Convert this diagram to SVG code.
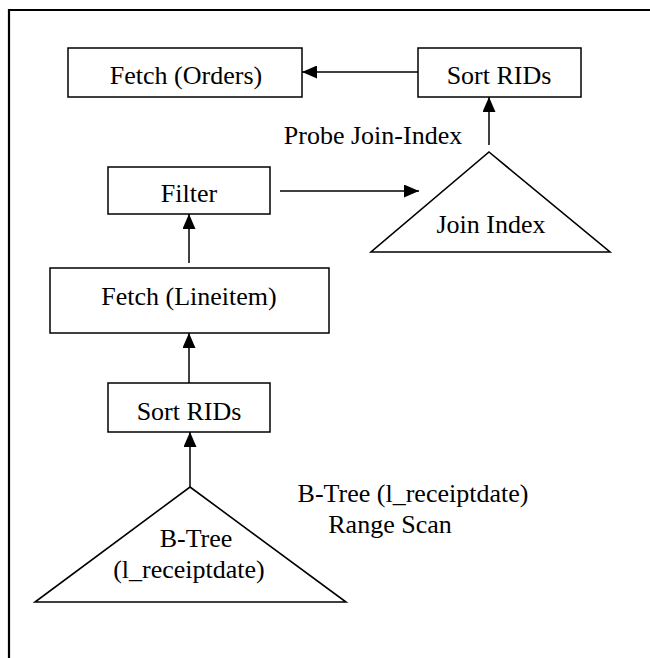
<svg xmlns="http://www.w3.org/2000/svg" width="650" height="658" viewBox="0 0 650 658">
<defs>
<style>
.box{fill:#fff;stroke:#000;stroke-width:1.5}
.tri{fill:#fff;stroke:#000;stroke-width:1.6;stroke-linejoin:miter}
.edge{fill:none;stroke:#000;stroke-width:1.5}
.frame{fill:none;stroke:#000;stroke-width:2.2}
text{font-family:"Liberation Serif","Times New Roman",serif;font-size:26px;fill:#000;text-anchor:middle}
</style>
<marker id="ah" viewBox="0 0 15 13" refX="15" refY="6.5" markerWidth="15" markerHeight="13" markerUnits="userSpaceOnUse" orient="auto">
<path d="M0,0 L15,6.5 L0,13 Z" fill="#000"/>
</marker>
</defs>
<rect width="650" height="658" fill="#fff"/>
<path class="frame" d="M9,658 V10 H650"/>
<g id="connectors">
<line class="edge" x1="418" y1="72" x2="302" y2="72" marker-end="url(#ah)"/>
<line class="edge" x1="489" y1="145" x2="489" y2="97" marker-end="url(#ah)"/>
<line class="edge" x1="280" y1="191" x2="419" y2="191" marker-end="url(#ah)"/>
<line class="edge" x1="189" y1="263" x2="189" y2="214" marker-end="url(#ah)"/>
<line class="edge" x1="189" y1="383" x2="189" y2="333" marker-end="url(#ah)"/>
<line class="edge" x1="190" y1="487" x2="190" y2="432" marker-end="url(#ah)"/>
</g>
<g id="fetch-orders">
<rect class="box" x="68" y="48" width="234" height="49"/>
<text x="186" y="84">Fetch (Orders)</text>
</g>
<g id="sort-rids-top">
<rect class="box" x="418" y="48" width="163" height="49"/>
<text x="499" y="84">Sort RIDs</text>
</g>
<text x="373" y="144">Probe Join-Index</text>
<g id="filter">
<rect class="box" x="108" y="167" width="162" height="47"/>
<text x="189" y="202">Filter</text>
</g>
<g id="join-index">
<polygon class="tri" points="489,152 610,252 371,252"/>
<text x="491" y="233">Join Index</text>
</g>
<g id="fetch-lineitem">
<rect class="box" x="50" y="268" width="279" height="65"/>
<text x="189" y="305">Fetch (Lineitem)</text>
</g>
<g id="sort-rids-bottom">
<rect class="box" x="108" y="383" width="162" height="49"/>
<text x="189" y="420">Sort RIDs</text>
</g>
<g id="btree">
<polygon class="tri" points="190,487 346,602 35,602"/>
<text x="196" y="547">B-Tree</text>
<text x="189" y="578">(l_receiptdate)</text>
</g>
<text x="413" y="502">B-Tree (l_receiptdate)</text>
<text x="390" y="533">Range Scan</text>
</svg>
